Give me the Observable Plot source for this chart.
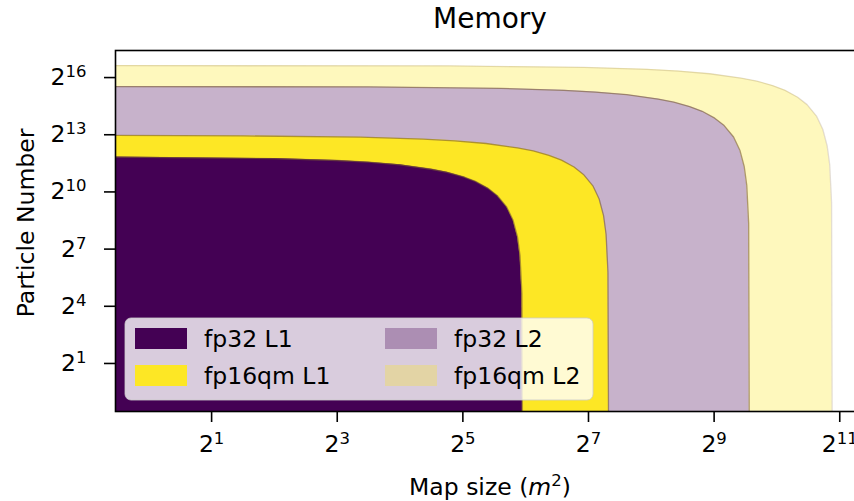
<!DOCTYPE html>
<html>
<head>
<meta charset="utf-8">
<script src="https://cdn.jsdelivr.net/npm/d3@7"></script>
<script src="https://cdn.jsdelivr.net/npm/@observablehq/plot@0.6"></script>
<style>
  html, body { margin: 0; padding: 0; background: #fff; overflow: hidden; }
  #chart svg { display: block; font-family: "DejaVu Sans", sans-serif; }
</style>
</head>
<body>
<div id="chart"></div>
<script>
// Memory budget regions: largest particle count that fits for a given map size.
// Values are log2 exponents (map size in m², particle number).
const seriesNames = ["fp32 L1", "fp16qm L1", "fp32 L2", "fp16qm L2"];
const seriesColors = ["#440154", "#fde725", "#440154", "#fde725"];
const seriesAlpha = [1, 1, 0.3, 0.3];

const fp32L1MapExp = [-1, 2.0, 3.0, 3.5, 4.0, 4.5, 4.75, 5.0, 5.2, 5.4, 5.55, 5.7, 5.8, 5.87, 5.91, 5.94, 5.95];
const fp32L1ParticleExp = [11.84, 11.75, 11.65, 11.56, 11.42, 11.19, 11.03, 10.80, 10.55, 10.19, 9.80, 9.20, 8.51, 7.64, 6.66, 4.67, -3];

const fp16qmL1MapExp = [-1, 1.5, 3.37, 4.37, 4.87, 5.37, 5.87, 6.12, 6.37, 6.57, 6.77, 6.92, 7.07, 7.17, 7.24, 7.28, 7.31, 7.32];
const fp16qmL1ParticleExp = [12.97, 12.94, 12.87, 12.77, 12.68, 12.54, 12.31, 12.15, 11.92, 11.67, 11.31, 10.92, 10.32, 9.63, 8.76, 7.78, 5.79, -3];

const fp32L2MapExp = [-1, 3.5, 5.61, 6.61, 7.11, 7.61, 8.11, 8.36, 8.61, 8.81, 9.01, 9.16, 9.31, 9.41, 9.48, 9.52, 9.55, 9.56];
const fp32L2ParticleExp = [15.53, 15.51, 15.43, 15.33, 15.24, 15.10, 14.87, 14.71, 14.48, 14.23, 13.87, 13.48, 12.88, 12.19, 11.32, 10.34, 8.35, -3];

const fp16qmL2MapExp = [-1, 4.8, 6.93, 7.93, 8.43, 8.93, 9.43, 9.68, 9.93, 10.13, 10.33, 10.48, 10.63, 10.73, 10.80, 10.84, 10.87, 10.88];
const fp16qmL2ParticleExp = [16.63, 16.61, 16.53, 16.43, 16.34, 16.20, 15.97, 15.81, 15.58, 15.33, 14.97, 14.58, 13.98, 13.29, 12.42, 11.44, 9.45, -3];

const xTickExps = [1, 3, 5, 7, 9, 11];
const yTickExps = [1, 4, 7, 10, 13, 16];

const boundaries = [
  [fp32L1MapExp, fp32L1ParticleExp],
  [fp16qmL1MapExp, fp16qmL1ParticleExp],
  [fp32L2MapExp, fp32L2ParticleExp],
  [fp16qmL2MapExp, fp16qmL2ParticleExp]
];

const floorValue = 2 ** -3;
const rowsFor = (i) => boundaries[i][0].map((mx, k) => ({
  series: seriesNames[i],
  map: 2 ** mx,
  particles: 2 ** boundaries[i][1][k]
}));

// tick text is "2^k"; it is split into base and superscript after rendering
const powLabel = (d) => "2^" + Math.round(Math.log2(d));

const W = 854, H = 501;
const FONT = 23.5;
const SUP_FONT = 16.5;
const SUP_RISE = 8;

// draw the outer (L2) regions first so the L1 regions sit on top
const drawOrder = [3, 2, 1, 0];
const regionMarks = drawOrder.flatMap((i) => {
  const rows = rowsFor(i);
  const marks = [];
  if (seriesAlpha[i] < 1) {
    marks.push(Plot.areaY(rows, {x: "map", y1: floorValue, y2: "particles", fill: "white", clip: true}));
  }
  marks.push(Plot.areaY(rows, {x: "map", y1: floorValue, y2: "particles", fill: seriesColors[i], fillOpacity: seriesAlpha[i], clip: true}));
  marks.push(Plot.line(rows, {x: "map", y: "particles", stroke: "#7a5c30", strokeOpacity: i === 3 ? 0.2 : 0.6, strokeWidth: 1.3, clip: true}));
  return marks;
});

const chart = Plot.plot({
  width: W,
  height: H,
  marginLeft: 115,
  marginRight: -11,
  marginTop: 50,
  marginBottom: 90,
  style: {fontFamily: "DejaVu Sans, sans-serif", fontSize: FONT + "px", color: "#000", background: "#fff"},
  x: {type: "log", base: 2, domain: [2 ** -0.53, 2 ** 11.41]},
  y: {type: "log", base: 2, domain: [2 ** -1.52, 2 ** 17.42]},
  marks: [
    ...regionMarks,
    Plot.frame({stroke: "#000", strokeWidth: 1.6}),
    Plot.axisX({ticks: xTickExps.map((e) => 2 ** e), tickFormat: powLabel, tickSize: 11, tickPadding: 13, strokeWidth: 1.6, label: null, fontSize: FONT}),
    Plot.axisY({ticks: yTickExps.map((e) => 2 ** e), tickFormat: powLabel, tickSize: 11, tickPadding: 18, strokeWidth: 1.6, label: null, fontSize: FONT})
  ]
});

document.getElementById("chart").appendChild(chart);

const svg = d3.select(chart);
const fontFamily = "DejaVu Sans, sans-serif";

// power-of-two tick labels: base 2 with a raised, smaller exponent
svg.selectAll("g[aria-label$='tick label'] text").each(function () {
  const t = d3.select(this);
  const parts = t.text().split("^");
  if (parts.length !== 2) return;
  t.text("");
  t.append("tspan").text(parts[0]);
  t.append("tspan").attr("font-size", SUP_FONT).attr("dy", -SUP_RISE).text(parts[1]);
});

// title
svg.append("text")
  .attr("x", 490).attr("y", 28)
  .attr("text-anchor", "middle")
  .attr("font-family", fontFamily).attr("font-size", 28).attr("fill", "#000")
  .text("Memory");

// axis labels
const xl = svg.append("text")
  .attr("x", 490).attr("y", 495)
  .attr("text-anchor", "middle")
  .attr("font-family", fontFamily).attr("font-size", FONT).attr("fill", "#000");
xl.append("tspan").text("Map size (");
xl.append("tspan").attr("font-style", "italic").text("m");
xl.append("tspan").attr("font-size", SUP_FONT).attr("dy", -9).text("2");
xl.append("tspan").attr("dy", 9).text(")");

svg.append("text")
  .attr("transform", "translate(34,223) rotate(-90)")
  .attr("text-anchor", "middle")
  .attr("font-family", fontFamily).attr("font-size", FONT).attr("fill", "#000")
  .text("Particle Number");

// legend, two columns
const legend = svg.append("g");
legend.append("rect")
  .attr("x", 125).attr("y", 318).attr("width", 468).attr("height", 82).attr("rx", 6)
  .attr("fill", "white").attr("fill-opacity", 0.8)
  .attr("stroke", "#cccccc").attr("stroke-opacity", 0.8);
seriesNames.forEach((name, i) => {
  const col = Math.floor(i / 2), row = i % 2;
  const sx = col === 0 ? 135 : 385;
  const sy = row === 0 ? 328 : 365;
  legend.append("rect")
    .attr("x", sx).attr("y", sy).attr("width", 52).attr("height", 21)
    .attr("fill", seriesColors[i]).attr("fill-opacity", seriesAlpha[i]);
  legend.append("text")
    .attr("x", sx + 69).attr("y", sy + 10.5)
    .attr("text-anchor", "start")
    .attr("dominant-baseline", "central")
    .attr("font-family", fontFamily).attr("font-size", FONT).attr("fill", "#000")
    .text(name);
});
</script>
</body>
</html>
